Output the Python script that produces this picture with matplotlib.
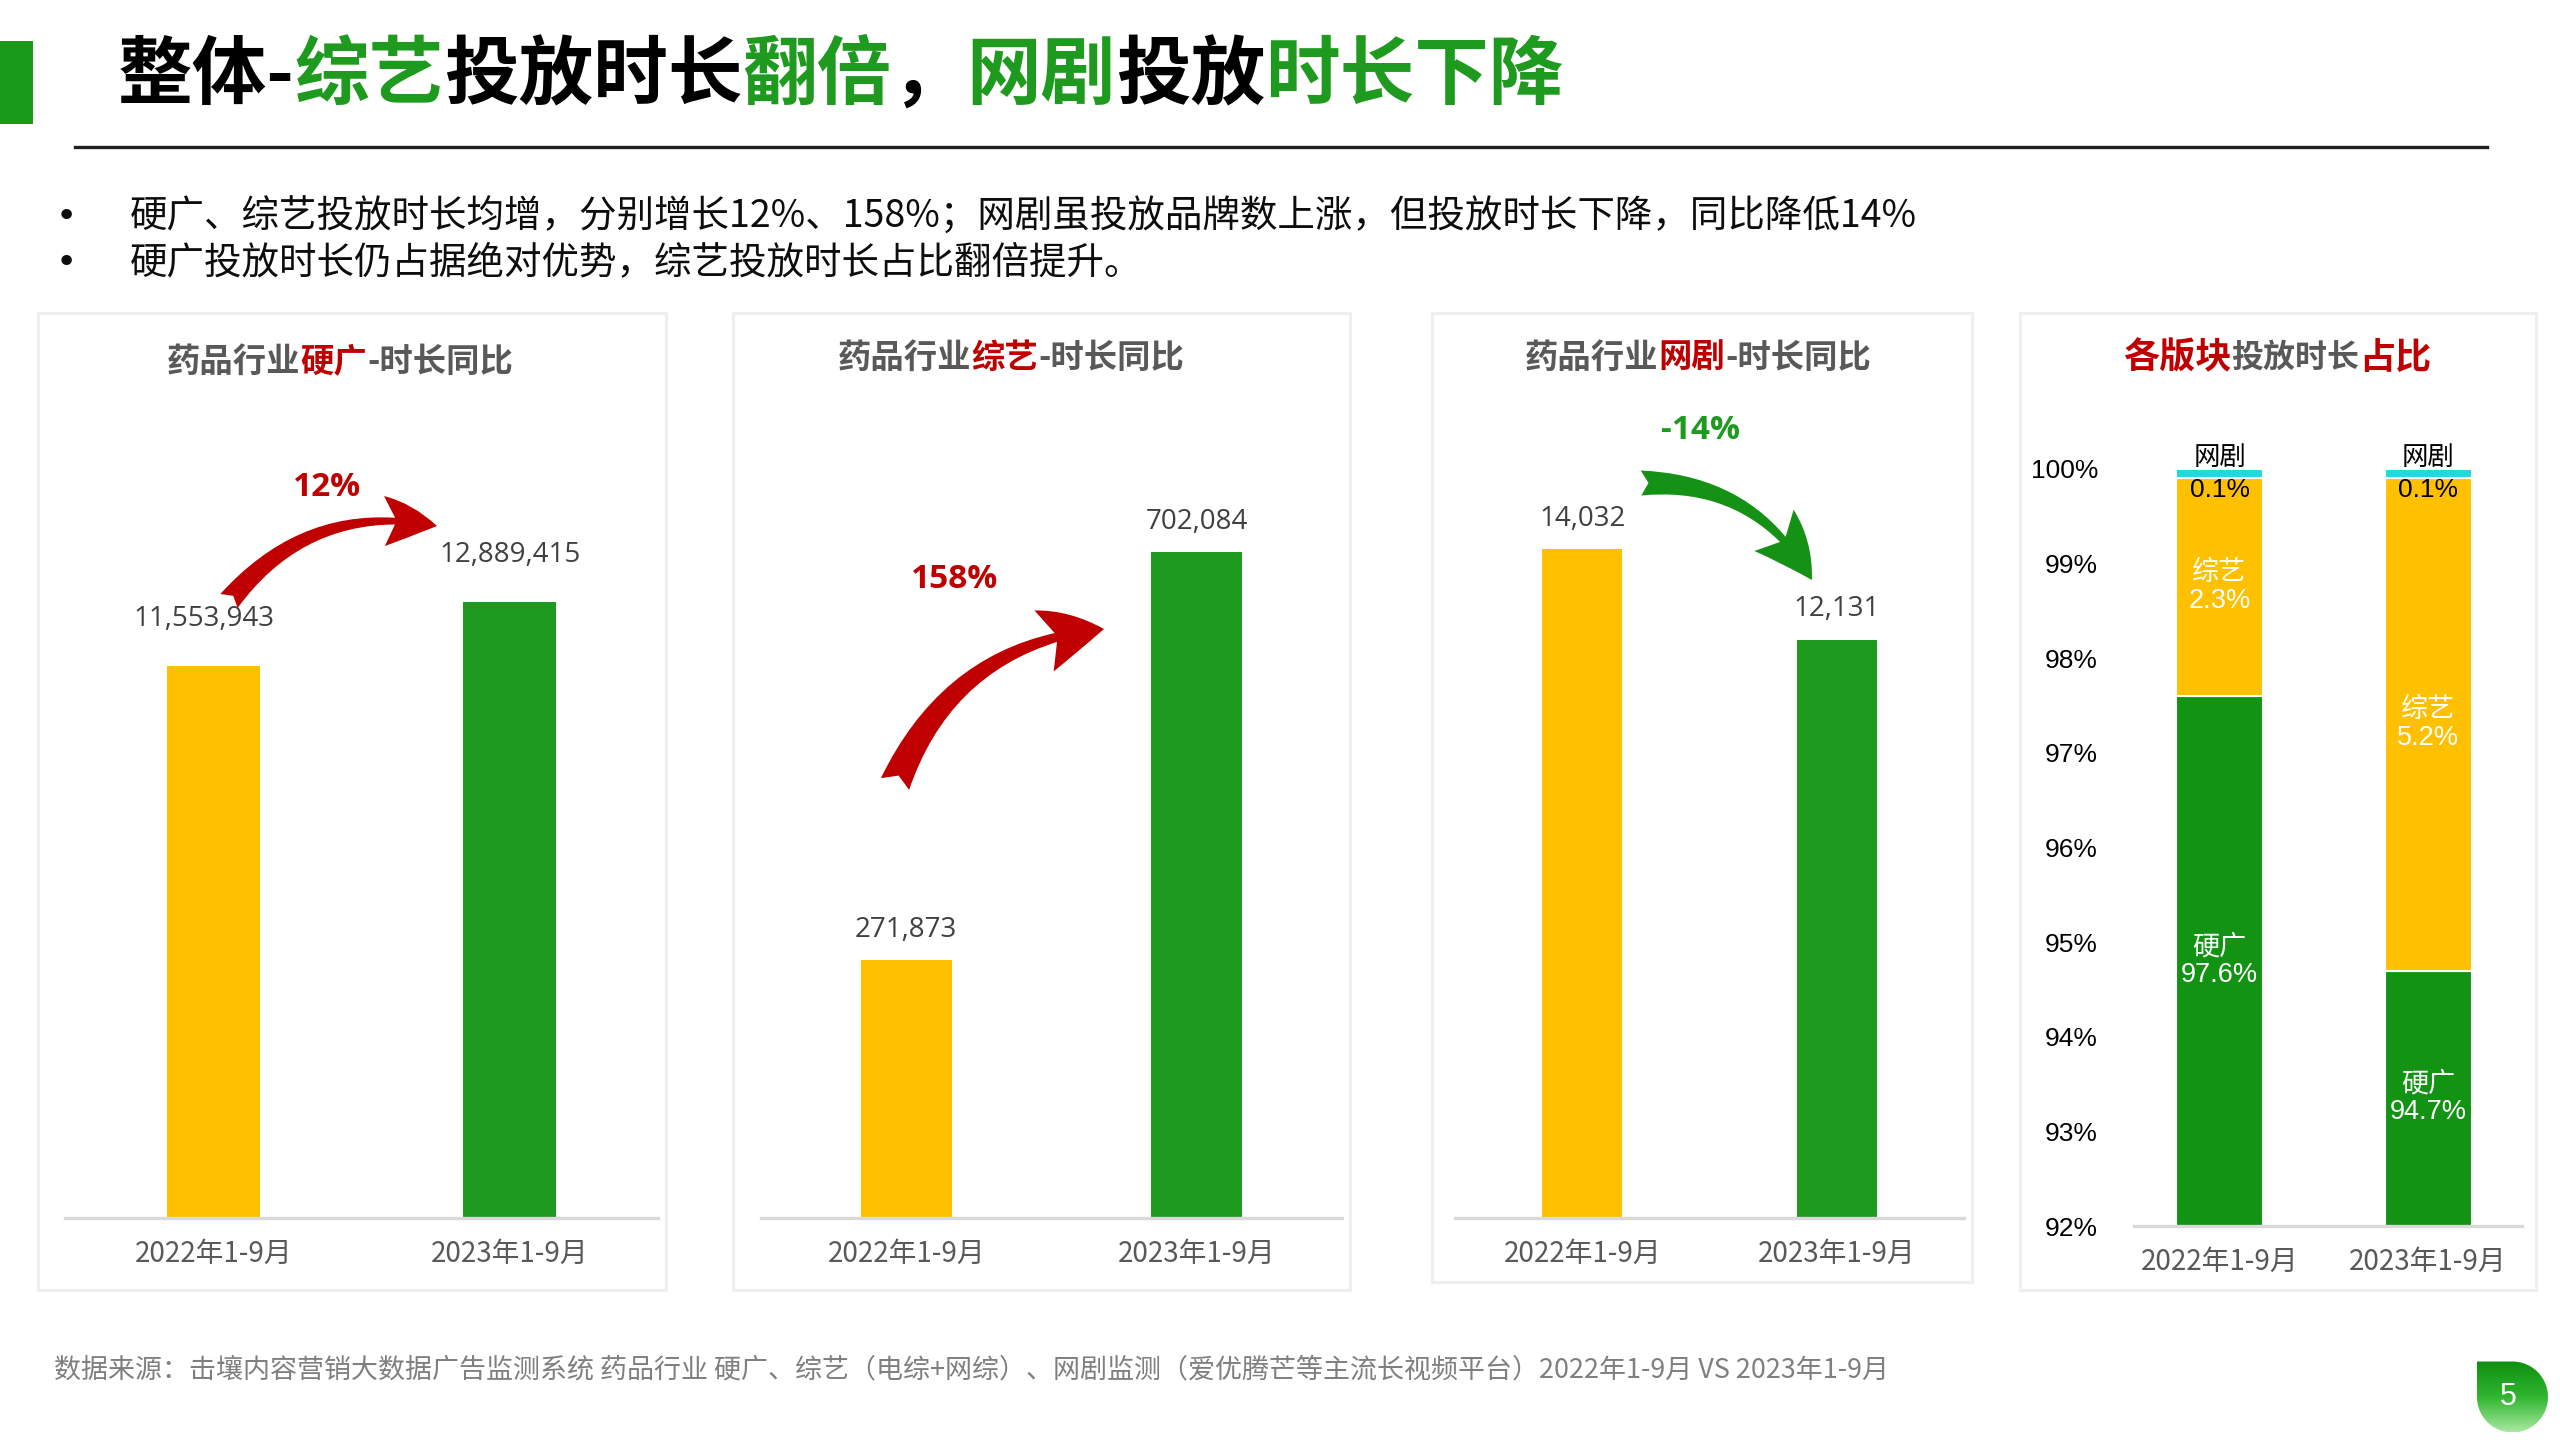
import matplotlib
matplotlib.use('Agg')
import matplotlib.pyplot as plt
from matplotlib.patches import Rectangle, FancyArrowPatch, Polygon
from matplotlib.lines import Line2D
from matplotlib.colors import LinearSegmentedColormap
import numpy as np

plt.rcParams['font.family'] = ['Noto Sans CJK SC', 'DejaVu Sans']

W, H = 2560, 1440

# ---- data ----
periods = ['2022年1-9月', '2023年1-9月']
hard_ad = [11553943, 12889415]       # 硬广 投放时长
variety = [271873, 702084]           # 综艺 投放时长
web_drama = [14032, 12131]           # 网剧 投放时长
growth = ['12%', '158%', '-14%']
share_hard = [97.6, 94.7]            # 占比 %
share_variety = [2.3, 5.2]
share_drama = [0.1, 0.1]
share_ticks = [92, 93, 94, 95, 96, 97, 98, 99, 100]

title_parts = [('整体-', 'k'), ('综艺', 'G'), ('投放时长', 'k'), ('翻倍', 'G'), ('，', 'k'),
               ('网剧', 'G'), ('投放', 'k'), ('时长下降', 'G')]
bullets = ['硬广、综艺投放时长均增，分别增长12%、158%；网剧虽投放品牌数上涨，但投放时长下降，同比降低14%',
           '硬广投放时长仍占据绝对优势，综艺投放时长占比翻倍提升。']
source = ('数据来源：击壤内容营销大数据广告监测系统 药品行业 硬广、综艺（电综+网综）、网剧监测'
          '（爱优腾芒等主流长视频平台）2022年1-9月 VS 2023年1-9月')

YELLOW = '#FFC000'
GREEN = '#1E9A1E'
GREEN2 = '#139313'
CYAN = '#22D8D8'
RED = '#C00000'
GRAY = '#595959'
NUM = '#404040'


def fx(x):
    return x / W


def fy(y):
    return 1 - y / H


fig = plt.figure(figsize=(25.6, 14.4), dpi=100)
fig.patch.set_facecolor('white')
renderer = fig.canvas.get_renderer()


def text_width(s, size, weight):
    t = fig.text(0, 0, s, fontsize=size, fontweight=weight)
    w = t.get_window_extent(renderer).width
    t.remove()
    return w


def put_parts(x, y, parts, weight='bold', ha='left'):
    """parts: (text, color, size). y measured from top, pixels."""
    texts = []
    cur = x
    for s, c, sz in parts:
        t = fig.text(fx(cur), fy(y), s, color=c, fontsize=sz, fontweight=weight,
                     va='center', ha='left')
        texts.append(t)
        cur += text_width(s + '口', sz, weight) - text_width('口', sz, weight)
    if ha == 'center':
        shift = (cur - x) / 2
        for t in texts:
            px, py = t.get_position()
            t.set_position((px - shift / W, py))
    return texts


def px_axes(x0, y0, x1, y1):
    return fig.add_axes([fx(x0), fy(y1), (x1 - x0) / W, (y1 - y0) / H])


def panel_box(x0, y0, x1, y1):
    fig.add_artist(Rectangle((fx(x0), fy(y1)), (x1 - x0) / W, (y1 - y0) / H,
                             transform=fig.transFigure, facecolor='white',
                             edgecolor='#EFEFEF', lw=2.2, zorder=0))


def curved_arrow(p0, p1, color, rad, hw, hl, tw):
    fig.add_artist(FancyArrowPatch((fx(p0[0]), fy(p0[1])), (fx(p1[0]), fy(p1[1])),
                                   transform=fig.transFigure,
                                   connectionstyle='arc3,rad=%s' % rad,
                                   arrowstyle='fancy,head_width=%s,head_length=%s,tail_width=%s' % (hw, hl, tw),
                                   mutation_scale=1, color=color, lw=0,
                                   shrinkA=0, shrinkB=0, zorder=5))


# ---- header ----
fig.add_artist(Rectangle((0, fy(124)), 33 / W, 83 / H, transform=fig.transFigure,
                         color='#1A9A1A', lw=0))
cmap_t = {'k': '#000000', 'G': GREEN}
put_parts(118, 76, [(s, cmap_t[c], 53.7) for s, c in title_parts])
fig.add_artist(Line2D([fx(75), fx(2487)], [fy(147), fy(147)], color='#202020', lw=2.4,
                      transform=fig.transFigure))

for i, b in enumerate(bullets):
    yy = 217 + i * 46
    fig.text(fx(56), fy(yy), '•', fontsize=26, va='center', color='#0D0D0D',
             family=['DejaVu Sans'])
    fig.text(fx(130), fy(yy), b, fontsize=27, va='center', color='#0D0D0D')

# ---- bar panels ----
boxes = [(38, 313, 666, 1290), (733, 313, 1350, 1290), (1432, 313, 1972, 1282)]
axboxes = [(65, 450, 658, 1218), (761, 450, 1342, 1218), (1455, 450, 1964, 1218)]
series = [hard_ad, variety, web_drama]
top_frac = [0.802, 0.867, 0.871]
names = ['硬广', '综艺', '网剧']
title_pos = [(340, 362), (1011, 358), (1698, 358)]
label_dx = [[-9, 0], [0, 0], [0, 0]]
label_dy = [34, 22, 22]

for k in range(3):
    panel_box(*boxes[k])
    ax = px_axes(*axboxes[k])
    ax.set_facecolor('none')
    vals = series[k]
    ax.bar([0, 1], vals, width=0.314, color=[YELLOW, GREEN], zorder=2)
    ax.set_xlim(-0.5, 1.5)
    ax.set_ylim(0, max(vals) / top_frac[k])
    for sp in ['left', 'right', 'top']:
        ax.spines[sp].set_visible(False)
    ax.spines['bottom'].set_color('#D9D9D9')
    ax.spines['bottom'].set_linewidth(2.4)
    ax.set_yticks([])
    ax.set_xticks([0, 1])
    ax.set_xticklabels(periods, fontsize=20, color=GRAY)
    ax.tick_params(axis='x', length=0, pad=15)
    for i, v in enumerate(vals):
        ax.annotate(f'{v:,}', (i, v), xytext=(label_dx[k][i] * 0.72, label_dy[k]),
                    textcoords='offset points', ha='center', va='center', fontsize=20,
                    color=NUM, family=['Open Sans', 'Noto Sans CJK SC'])
    put_parts(title_pos[k][0], title_pos[k][1],
              [('药品行业', GRAY, 24), (names[k], RED, 24), ('-时长同比', GRAY, 24)], ha='center')

# growth annotations
fig.text(fx(327), fy(487), growth[0], fontsize=24, fontweight='bold', color=RED,
         ha='center', va='center', family=['Open Sans', 'DejaVu Sans'])
fig.text(fx(955), fy(580), growth[1], fontsize=24, fontweight='bold', color=RED,
         ha='center', va='center', family=['Open Sans', 'DejaVu Sans'])
fig.text(fx(1701), fy(430), growth[2], fontsize=24, fontweight='bold', color=GREEN,
         ha='center', va='center', family=['Open Sans', 'DejaVu Sans'])
curved_arrow((229, 601), (437, 526), RED, -0.3, 36, 38, 16)
curved_arrow((895, 784), (1104, 629), RED, -0.3, 46, 44, 22)
curved_arrow((1641, 483), (1812, 580), '#159115', -0.3, 41, 45, 18)

# ---- share panel ----
panel_box(2020, 313, 2536, 1290)
put_parts(2277, 358, [('各版块', RED, 26), ('投放时长', GRAY, 23), ('占比', RED, 26)], ha='center')
ax4 = px_axes(2134, 469, 2522, 1226)
ax4.set_facecolor('none')
x = np.array([0, 1])
hard = np.array(share_hard)
var = np.array(share_variety)
dra = np.array(share_drama)
ax4.bar(x, hard, width=0.416, color=GREEN2, edgecolor='white', lw=1.5, zorder=2)
ax4.bar(x, var, bottom=hard, width=0.416, color=YELLOW, edgecolor='white', lw=1.5, zorder=2)
ax4.bar(x, dra, bottom=hard + var, width=0.416, color=CYAN, edgecolor='white', lw=1.5, zorder=2)
ax4.set_xlim(-0.41, 1.45)
ax4.set_ylim(92, 100)
ax4.set_yticks(share_ticks)
ax4.set_yticklabels([f'{t}%' for t in share_ticks], fontsize=19, color='#000000',
                    family=['Liberation Sans', 'Noto Sans CJK SC'])
ax4.set_xticks(x)
ax4.set_xticklabels(periods, fontsize=20, color=GRAY)
ax4.tick_params(axis='y', length=0, pad=26)
ax4.tick_params(axis='x', length=0, pad=15)
for sp in ['left', 'right', 'top']:
    ax4.spines[sp].set_visible(False)
ax4.spines['bottom'].set_color('#D9D9D9')
ax4.spines['bottom'].set_linewidth(2.4)
lab_font = ['Liberation Sans', 'Noto Sans CJK SC']
for i in range(2):
    top = hard[i] + var[i] + dra[i]
    ax4.annotate('网剧', (i, top), xytext=(0, 8), textcoords='offset points', ha='center',
                 va='center', fontsize=19, color='#000000', annotation_clip=False)
    ax4.annotate(f'{dra[i]}%', (i, top), xytext=(0, -15), textcoords='offset points',
                 ha='center', va='center', fontsize=19, color='#000000', family=lab_font,
                 annotation_clip=False)
    ax4.text(i, hard[i] + var[i] / 2, f'综艺\n{var[i]}%', ha='center', va='center',
             fontsize=19.5, color='white', family=lab_font, linespacing=1.1)
    ax4.text(i, (92 + hard[i]) / 2, f'硬广\n{hard[i]}%', ha='center', va='center',
             fontsize=19.5, color='white', family=lab_font, linespacing=1.1)

# ---- footer ----
fig.text(fx(54), fy(1370), source, fontsize=19.45, color='#7F7F7F', va='center')

pax = px_axes(2470, 1350, 2556, 1440)
pax.set_xlim(2470, 2556)
pax.set_ylim(1440, 1350)
pax.axis('off')
cx, cy, r = 2512.5, 1397, 35.5
ang = np.linspace(np.pi / 2, -np.pi, 60)
pts = [(cx + r * np.cos(a), cy - r * np.sin(a)) for a in ang] + [(cx - r, cy - r)]
poly = Polygon(pts, closed=True, facecolor='none', edgecolor='none')
pax.add_patch(poly)
grad = np.linspace(0, 1, 100).reshape(-1, 1)
gcm = LinearSegmentedColormap.from_list('g', ['#0F8F0F', '#2FB52F', '#A8E8A0'])
im = pax.imshow(grad, cmap=gcm, extent=(cx - r, cx + r, cy + r, cy - r), aspect='auto')
im.set_clip_path(poly)
pax.text(cx - 4, cy, '5', color='white', fontsize=22, ha='center', va='center',
         family=['Liberation Sans', 'DejaVu Sans'])

fig.savefig('out.png', dpi=100, facecolor='white')
